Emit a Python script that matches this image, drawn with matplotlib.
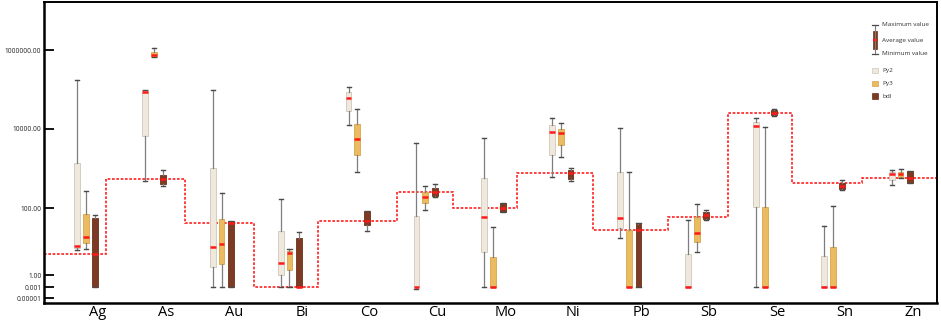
import numpy as np
import matplotlib
matplotlib.use("Agg")
import matplotlib.pyplot as plt
from matplotlib.patches import Rectangle

# elements along the x axis
elements = ['Ag', 'As', 'Au', 'Bi', 'Co', 'Cu', 'Mo', 'Ni', 'Pb', 'Sb', 'Se', 'Sn', 'Zn']

# Py2 : max / upper box / average / lower box / min
py2_max = [173000, 98000, 96000, 166, 115000, 4290, 5820, 19000, 10600, 43, 19000, 30, 925]
py2_q3 = [1340, 94700, 1000, 20.7, 84100, 59, 561, 12200, 795, 4.3, 14800, 3.7, 795]
py2_avg = [7.2, 84200, 7.1, 2.27, 61400, 0.0012, 53, 8100, 51.5, 0.0012, 11700, 0.0012, 708]
py2_q1 = [6.5, 6550, 1.8, 1.0, 27700, 0.001, 4.8, 2130, 26, 0.001, 108, 0.001, 508]
py2_min = [5.8, 489, 0.001, 0.001, 12200, 0.00044, 0.001, 605, 13.1, 0.001, 0.001, 0.001, 387]

# Py3
py3_max = [264, 1140000, 235, 6.2, 31100, 365, 27.8, 13700, 824, 126, 11200, 112, 981]
py3_q3 = [65, 906000, 48, 5.3, 13200, 258, 3.4, 10000, 22.6, 53, 106, 7.1, 809]
py3_avg = [13.7, 733000, 8.7, 4.6, 5600, 189, 0.0012, 7650, 0.0012, 18.4, 0.0012, 0.0012, 716]
py3_q1 = [9.3, 664000, 2.1, 1.44, 2170, 131, 0.001, 3880, 0.001, 9.6, 0.001, 0.001, 602]
py3_min = [5.9, 653000, 0.001, 0.001, 795, 89, 0.001, 1930, 0.001, 5.0, 0.001, 0.001, 580]

# bdl
bdl_max = [60.7, 893, 42, 19, 80, 396, 136, 1040, 35.8, 89, 31700, 500, 841]
bdl_q3 = [51.5, 692, 42, 12.6, 80, 314, 136, 908, 33.5, 76, 29900, 427, 841]
bdl_avg = [4.3, 548, 35.8, 0.0012, 41, 258, 100, 764, 22.6, 62, 25500, 365, 581]
bdl_q1 = [0.001, 396, 0.001, 0.001, 31, 204, 76, 529, 0.001, 47, 22300, 307, 427]
bdl_min = [0.001, 365, 0.001, 0.001, 20.7, 189, 76, 480, 0.001, 45, 20700, 280, 427]

# red dotted reference line (one level per element) and where it steps
ref_level = [4.3, 548, 35.8, 0.001, 41, 258, 100, 764, 22.6, 55, 25500, 427, 581]
ref_steps = [0.113, 1.281, 2.297, 3.244, 4.399, 5.233, 6.166, 7.286, 8.390, 9.274, 10.221, 11.247]

ytick_vals = [1e-5, 1e-3, 1, 100, 1e4, 1e6]
ytick_labels = ['0.00001', '0.001', '1.00', '100.00', '10000.00', '1000000.00']

# the original axis is log-like but squeezes everything below 1
LOG_KNOTS = [-7, -5, -3, 0, 2, 4, 6, 8]
POS_KNOTS = [-6.6, 4.4, 15.4, 27.4, 94.7, 174.0, 252.7, 331.4]


def fwd(v):
    v = np.clip(np.asarray(v, dtype=float), 1e-12, None)
    return np.interp(np.log10(v), LOG_KNOTS, POS_KNOTS)


def inv(p):
    return 10 ** np.interp(p, POS_KNOTS, LOG_KNOTS)


def make_stats(mx, q3, avg, q1, mn):
    return [dict(whishi=a, q3=b, med=c, q1=d, whislo=e, fliers=[])
            for a, b, c, d, e in zip(mx, q3, avg, q1, mn)]


plt.rcParams['font.family'] = ['Open Sans', 'DejaVu Sans']

fig = plt.figure(figsize=(9.41, 3.23), dpi=100)
ax = fig.add_axes([0.0468, 0.0628, 0.9489, 0.9295])
ax.set_yscale('function', functions=(fwd, inv))

groups = [
    (make_stats(py2_max, py2_q3, py2_avg, py2_q1, py2_min), -0.31, '#efe8dd', '#cfc6b8'),
    (make_stats(py3_max, py3_q3, py3_avg, py3_q1, py3_min), -0.18, '#ebbb62', '#d9a548'),
    (make_stats(bdl_max, bdl_q3, bdl_avg, bdl_q1, bdl_min), -0.04, '#7c3b22', '#6a301b'),
]
x = np.arange(len(elements))
for st, off, fc, ec in groups:
    ax.bxp(st, positions=x + off, widths=0.085, capwidths=0.06,
           patch_artist=True, showfliers=False, manage_ticks=False,
           boxprops=dict(facecolor=fc, edgecolor=ec, linewidth=0.6),
           whiskerprops=dict(color='#7d7d7d', linewidth=0.9),
           capprops=dict(color='#4a4a4a', linewidth=1.0),
           medianprops=dict(color='#ff1a1a', linewidth=1.8, solid_capstyle='butt'))

xl, xr = -0.795, 12.356
edges = [xl] + ref_steps + [xr]
ax.stairs(ref_level, edges, baseline=None, color='#ff1f1f', linewidth=1.2,
          linestyle=(0, (1.6, 1.0)), zorder=1.5)

ax.set_xlim(xl, xr)
ax.set_ylim(10 ** -5.8, 10 ** 7.21)
ax.set_yticks(ytick_vals)
ax.set_yticklabels(ytick_labels)
ax.yaxis.set_minor_locator(matplotlib.ticker.NullLocator())
ax.tick_params(axis='y', direction='in', length=7, width=1.3, labelsize=4.8,
               pad=2, labelcolor='#222222')
ax.set_xticks(x)
ax.set_xticklabels(elements)
ax.tick_params(axis='x', length=0, labelsize=10.5, pad=2)
for s in ax.spines.values():
    s.set_linewidth(1.4)
ax.spines['left'].set_linewidth(1.8)
ax.spines['bottom'].set_linewidth(1.8)

# hand made key in the upper right corner
T = ax.transAxes
lx, w = 0.9306, 0.0052
ax.add_patch(Rectangle((lx - w / 2, 0.8452), w, 0.0609, transform=T,
                       facecolor='#7c3b22', edgecolor='#6a301b', lw=0.5))
ax.plot([lx, lx], [0.8285, 0.924], transform=T, color='#7d7d7d', lw=0.8, zorder=1.8)
for yy in (0.8285, 0.924):
    ax.plot([lx - 0.0035, lx + 0.0035], [yy, yy], transform=T, color='#4a4a4a', lw=0.9)
ax.plot([lx - w / 2, lx + w / 2], [0.875, 0.875], transform=T, color='#ff1a1a', lw=1.6,
        solid_capstyle='butt')
for txt, yy in [('Maximum value', 0.926), ('Average value', 0.875), ('Minimum value', 0.8295)]:
    ax.text(0.9387, yy, txt, transform=T, fontsize=4.6, va='center', color='#333333')
sq_w, sq_h = 0.0058, 0.0175
for (lab, fc, ec), yy in zip([('Py2', '#efe8dd', '#cfc6b8'), ('Py3', '#ebbb62', '#d9a548'),
                              ('bdl', '#7c3b22', '#6a301b')], [0.7741, 0.7309, 0.6885]):
    ax.add_patch(Rectangle((lx - sq_w / 2, yy - sq_h / 2), sq_w, sq_h, transform=T,
                           facecolor=fc, edgecolor=ec, lw=0.5))
    ax.text(0.9387, yy, lab, transform=T, fontsize=4.6, va='center', color='#333333')

fig.savefig('out.png', dpi=100)
